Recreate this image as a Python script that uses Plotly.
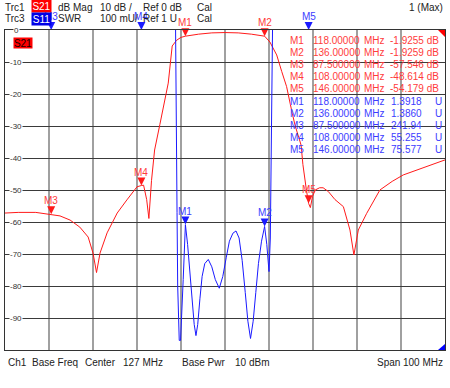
import plotly.graph_objects as go

# ---------------- data ----------------
freq_s21 = [77, 80, 84, 87.5, 89.5, 91.8, 94.0, 95.9, 97.0, 97.8, 98.6, 100.2, 102.5, 104.7,
            107.0, 108.0, 108.5, 109.2, 109.7, 110.3, 111.0, 112.2, 114.1, 115.0, 116.0, 117.0,
            118.0, 121.0, 124.0, 127.0, 130.0, 133.0, 136.0, 137.2, 138.75, 139.9, 141.0, 142.2,
            142.9, 144.3, 144.7, 145.5, 146.0, 146.4, 146.9, 147.5, 148.5, 149.3, 150.5, 152.0,
            153.9, 155.4, 156.3, 157.3, 159.2, 162.2, 165.0, 167.5, 172.0, 177.0]
s21_db = [-57.2, -57.0, -57.0, -57.55, -58.1, -59.4, -61.6, -64.7, -69.7, -75.8, -69.7, -63.4,
          -57.2, -53.1, -49.0, -48.6, -48.5, -53.0, -58.9, -47.0, -37.5, -29.5, -16.6, -5.0,
          -3.2, -2.3, -1.93, -1.3, -0.9, -0.8, -0.9, -1.3, -1.93, -3.75, -7.8, -13.0, -17.7,
          -25.5, -29.7, -36.0, -42.0, -50.0, -54.18, -55.5, -52.0, -50.0, -49.3, -49.3, -50.5,
          -53.0, -55.2, -62.5, -70.3, -62.5, -57.3, -50.0, -47.3, -45.3, -43.0, -40.6]

freq_swr = [77, 87.5, 108, 114, 115.6, 115.77, 116.1, 116.25, 116.6, 116.9, 117.5, 118.0, 118.5,
            119.0, 119.5, 120.0, 120.4, 120.8, 121.3, 121.8, 122.4, 123.2, 124.0, 124.8, 125.7,
            126.5, 127.3, 128.0, 128.8, 129.5, 130.2, 130.9, 131.6, 132.2, 132.8, 133.4, 134.0,
            134.6, 135.3, 136.0, 136.5, 137.0, 137.3, 137.5, 137.8, 140.0, 146.0, 160.0, 177.0]
swr = [300, 241.94, 55.255, 8, 2.5, 2.0, 1.43, 1.2, 1.03, 1.03, 1.22, 1.3918, 1.33, 1.25,
       1.16, 1.08, 1.045, 1.08, 1.16, 1.23, 1.27, 1.283, 1.26, 1.22, 1.193, 1.23, 1.29, 1.34,
       1.365, 1.372, 1.35, 1.28, 1.18, 1.09, 1.036, 1.09, 1.18, 1.27, 1.34, 1.386, 1.33, 1.245,
       1.35, 1.6, 2.0, 5.0, 75.577, 200, 300]

marker_names = ["M1", "M2", "M3", "M4", "M5"]
marker_freq = [118.0, 136.0, 87.5, 108.0, 146.0]
marker_s21 = [-1.9255, -1.9259, -57.546, -48.614, -54.179]
marker_swr = [1.3918, 1.3860, 241.94, 55.255, 75.577]

y_ticks = [0, -10, -20, -30, -40, -50, -60, -70, -80, -90]

header_row1 = ["Trc1", "dB Mag", "10 dB /", "Ref 0 dB", "Cal"]
header_row2 = ["Trc3", "SWR", "100 mU/", "Ref 1 U", "Cal"]
footer = ["Ch1", "Base Freq", "Center", "127 MHz", "Base Pwr", "10 dBm", "Span", "100 MHz"]

# ---------------- geometry helpers ----------------
L, R, T, B = 5, 445, 30, 350


def px(x):
    return (x - L) / (R - L)


def py(y):
    return (B - y) / (B - T)


RED = "#ff1a1a"
BLUE = "#1a1aff"
RED_TXT = "#ff3c3c"
BLUE_TXT = "#3c3cff"
TXT = "#222222"
FONT = "Liberation Sans, Arial, sans-serif"

fig = go.Figure()

fig.add_trace(go.Scatter(x=freq_swr, y=swr, yaxis="y2", mode="lines",
                         line=dict(color=BLUE, width=1), hoverinfo="skip"))
fig.add_trace(go.Scatter(x=freq_s21, y=s21_db, mode="lines",
                         line=dict(color=RED, width=1), hoverinfo="skip"))

# markers: 'arrow-down' symbol has its tip on the data point
SWR_TOP = 1.99999
blue_y = [min(v, SWR_TOP) for v in marker_swr]
tri = 8
fig.add_trace(go.Scatter(x=marker_freq, y=marker_s21, mode="markers",
                         marker=dict(symbol="arrow-down", size=tri, color=RED, line=dict(width=0)),
                         cliponaxis=False, hoverinfo="skip"))
fig.add_trace(go.Scatter(x=marker_freq, y=blue_y, yaxis="y2", mode="markers",
                         marker=dict(symbol="arrow-down", size=tri, color=BLUE, line=dict(width=0)),
                         cliponaxis=False, hoverinfo="skip"))

ann = []
LABEL_SHIFT = 7
for n, f, v in zip(marker_names, marker_freq, marker_s21):
    ann.append(dict(x=f, y=v, xref="x", yref="y", text=n, showarrow=False, yanchor="bottom",
                    yshift=LABEL_SHIFT, xanchor="center", borderpad=0,
                    font=dict(size=10, color=RED_TXT, family=FONT)))
for n, f, v in zip(marker_names, marker_freq, blue_y):
    ann.append(dict(x=f, y=v, xref="x", yref="y2", text=n, showarrow=False, yanchor="bottom",
                    yshift=LABEL_SHIFT, xanchor="center", borderpad=0,
                    font=dict(size=10, color=BLUE_TXT, family=FONT)))

# y tick labels sitting on the grid lines
for t in y_ticks:
    ann.append(dict(x=px(16), xref="paper", y=t, yref="y", text=str(t) if t == 0 else "-" + str(-t),
                    showarrow=False, font=dict(size=8, color="#333", family=FONT),
                    bgcolor="white", borderpad=0, xanchor="center", yanchor="middle"))

# header
hx = [3, 56, 98, 141, 195]
for txt, x in zip(header_row1, hx):
    ann.append(dict(x=px(x), y=py(7), xref="paper", yref="paper", text=txt, showarrow=False,
                    xanchor="left", yanchor="middle", font=dict(size=10, color=TXT, family=FONT)))
for txt, x in zip(header_row2, hx):
    ann.append(dict(x=px(x), y=py(19), xref="paper", yref="paper", text=txt, showarrow=False,
                    xanchor="left", yanchor="middle", font=dict(size=10, color=TXT, family=FONT)))
ann.append(dict(x=px(31), y=py(6), xref="paper", yref="paper", text="S21", showarrow=False,
                xanchor="left", yanchor="middle", bgcolor="#ff0000", width=19, height=12,
                borderpad=0, font=dict(size=10, color="white", family=FONT)))
ann.append(dict(x=px(31), y=py(19), xref="paper", yref="paper", text="S11", showarrow=False,
                xanchor="left", yanchor="middle", bgcolor="#0000e6", width=19, height=12,
                borderpad=0, font=dict(size=10, color="white", family=FONT)))
ann.append(dict(x=px(445), y=py(7), xref="paper", yref="paper", text="1 (Max)", showarrow=False,
                xanchor="right", yanchor="middle", font=dict(size=10, color=TXT, family=FONT)))

# in-plot trace label
ann.append(dict(x=px(13), y=py(43), xref="paper", yref="paper", text="S21", showarrow=False,
                xanchor="left", yanchor="middle", bgcolor="#ff0000", width=18, height=10,
                borderpad=0, font=dict(size=10, color="#200000", family=FONT)))

# footer
fx = [6, 30, 83, 121, 180, 233]
for txt, x in zip(footer[:6], fx):
    ann.append(dict(x=px(x), y=py(362), xref="paper", yref="paper", text=txt, showarrow=False,
                    xanchor="left", yanchor="middle", font=dict(size=10, color=TXT, family=FONT)))
ann.append(dict(x=px(375), y=py(362), xref="paper", yref="paper", text=footer[6], showarrow=False,
                xanchor="left", yanchor="middle", font=dict(size=10, color=TXT, family=FONT)))
ann.append(dict(x=px(445), y=py(362), xref="paper", yref="paper", text=footer[7], showarrow=False,
                xanchor="right", yanchor="middle", font=dict(size=10, color=TXT, family=FONT)))

# marker table
row0, dy = 40, 12.2
rows = []
for n, f, v in zip(marker_names, marker_freq, marker_s21):
    rows.append((n, f"{f:#.8g}", f"{v:#.5g} dB", None, RED_TXT))
for n, f, v in zip(marker_names, marker_freq, marker_swr):
    rows.append((n, f"{f:#.8g}", f"{v:#.5g}", "U", BLUE_TXT))
for i, (n, f, v, u, c) in enumerate(rows):
    yy = py(row0 + i * dy)
    fnt = dict(size=10, color=c, family=FONT)
    ann.append(dict(x=px(288), y=yy, xref="paper", yref="paper", text=n, showarrow=False,
                    xanchor="left", yanchor="middle", font=fnt))
    ann.append(dict(x=px(311), y=yy, xref="paper", yref="paper", text=f, showarrow=False,
                    xanchor="left", yanchor="middle", font=fnt))
    ann.append(dict(x=px(361.5), y=yy, xref="paper", yref="paper", text="MHz", showarrow=False,
                    xanchor="left", yanchor="middle", font=fnt))
    if u is None:
        ann.append(dict(x=px(441), y=yy, xref="paper", yref="paper", text=v, showarrow=False,
                        xanchor="right", yanchor="middle", font=fnt))
    else:
        ann.append(dict(x=px(424), y=yy, xref="paper", yref="paper", text=v, showarrow=False,
                        xanchor="right", yanchor="middle", font=fnt))
        ann.append(dict(x=px(433), y=yy, xref="paper", yref="paper", text=u, showarrow=False,
                        xanchor="left", yanchor="middle", font=fnt))

shapes = [
    dict(type="path", xref="paper", yref="paper",
         path=f"M {px(438)},{py(30)} L {px(445)},{py(30)} L {px(445)},{py(37)} Z",
         fillcolor="#ff0000", line=dict(width=0)),
    dict(type="path", xref="paper", yref="paper",
         path=f"M {px(438)},{py(350)} L {px(445)},{py(350)} L {px(445)},{py(344)} Z",
         fillcolor="#0000ff", line=dict(width=0)),
]

fig.update_layout(
    width=450, height=388,
    margin=dict(l=L, r=450 - R, t=T, b=388 - B),
    paper_bgcolor="white", plot_bgcolor="white",
    showlegend=False,
    font=dict(family=FONT, size=10, color=TXT),
    xaxis=dict(range=[77, 177], tick0=77, dtick=10, showgrid=True, gridcolor="#a0a0a0",
               gridwidth=2, showticklabels=False, ticks="", zeroline=False,
               showline=True, linecolor="#333", linewidth=1, mirror=True, fixedrange=True),
    yaxis=dict(range=[-100, 0], dtick=10, showgrid=True, gridcolor="#3a3a3a", gridwidth=1,
               showticklabels=False, ticks="", zeroline=False,
               showline=True, linecolor="#333", linewidth=1, mirror=True, fixedrange=True),
    yaxis2=dict(range=[1, 2], overlaying="y", visible=False, fixedrange=True),
    annotations=ann,
    shapes=shapes,
)

fig.write_html("out.html", config={"displayModeBar": False},
               post_script="document.body.style.margin='0';document.body.style.overflow='hidden';")
